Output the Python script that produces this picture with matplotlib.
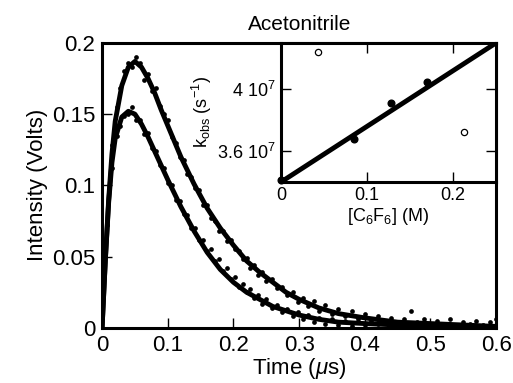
import matplotlib
matplotlib.use("Agg")
import matplotlib.pyplot as plt

plt.rcParams["font.family"] = ["Liberation Sans", "DejaVu Sans"]
plt.rcParams["mathtext.fontset"] = "custom"
plt.rcParams["mathtext.rm"] = "Liberation Sans"
plt.rcParams["mathtext.it"] = "Liberation Sans:italic"

# fitted curves (time in us, intensity in volts)
fit_t = [0, 0.005, 0.01, 0.015, 0.02, 0.03, 0.04, 0.05, 0.06, 0.07, 0.08, 0.09, 0.1,
         0.12, 0.14, 0.16, 0.18, 0.2, 0.22, 0.24, 0.26, 0.28, 0.3, 0.33, 0.36, 0.4,
         0.45, 0.5, 0.55, 0.6]
fit_upper = [0, 0.048, 0.090, 0.122, 0.145, 0.170, 0.183, 0.187, 0.183, 0.175, 0.165,
             0.153, 0.142, 0.120, 0.101, 0.084, 0.070, 0.058, 0.047, 0.039, 0.032,
             0.025, 0.020, 0.014, 0.010, 0.007, 0.004, 0.003, 0.002, 0.001]
fit_lower = [0, 0.048, 0.088, 0.116, 0.133, 0.148, 0.152, 0.150, 0.143, 0.134, 0.124,
             0.114, 0.104, 0.085, 0.068, 0.053, 0.041, 0.032, 0.025, 0.020, 0.015,
             0.012, 0.009, 0.006, 0.004, 0.003, 0.002, 0.001, 0.001, 0.000]

# measured points
up_t = [0.008, 0.015, 0.022, 0.028, 0.034, 0.040, 0.046, 0.052, 0.058, 0.064, 0.070,
        0.076, 0.082, 0.088, 0.094, 0.100, 0.106, 0.112, 0.118, 0.124, 0.130, 0.136,
        0.142, 0.148, 0.154, 0.160, 0.166, 0.172, 0.178, 0.184, 0.190, 0.196, 0.202,
        0.208, 0.214, 0.220, 0.226, 0.232, 0.238, 0.244, 0.250, 0.258, 0.266, 0.274,
        0.282, 0.290, 0.298, 0.306, 0.314, 0.322, 0.330, 0.340, 0.350, 0.360, 0.370,
        0.380, 0.390, 0.400, 0.410, 0.420, 0.430, 0.440, 0.450, 0.460, 0.470, 0.480,
        0.490, 0.500, 0.510, 0.520, 0.530, 0.540, 0.550, 0.560, 0.570, 0.580, 0.590,
        0.600]
up_i = [0.075, 0.128, 0.155, 0.168, 0.180, 0.186, 0.183, 0.190, 0.186, 0.174, 0.178,
        0.166, 0.168, 0.156, 0.150, 0.146, 0.134, 0.130, 0.120, 0.118, 0.108, 0.106,
        0.098, 0.097, 0.086, 0.086, 0.077, 0.075, 0.068, 0.068, 0.061, 0.062, 0.055,
        0.054, 0.048, 0.049, 0.042, 0.044, 0.037, 0.039, 0.033, 0.034, 0.028, 0.029,
        0.023, 0.025, 0.018, 0.021, 0.015, 0.019, 0.012, 0.016, 0.010, 0.013, 0.008,
        0.012, 0.006, 0.010, 0.005, 0.008, 0.004, 0.007, 0.003, 0.006, 0.012, 0.004,
        0.006, 0.002, 0.005, 0.003, 0.006, 0.002, 0.004, 0.003, 0.005, 0.002, 0.004,
        0.006]
lo_t = [0.008, 0.015, 0.022, 0.028, 0.034, 0.040, 0.046, 0.052, 0.058, 0.064, 0.070,
        0.076, 0.082, 0.088, 0.094, 0.100, 0.106, 0.112, 0.118, 0.124, 0.130, 0.136,
        0.142, 0.148, 0.154, 0.160, 0.166, 0.172, 0.178, 0.184, 0.190, 0.196, 0.202,
        0.208, 0.214, 0.220, 0.226, 0.232, 0.238, 0.244, 0.250, 0.258, 0.266, 0.274,
        0.282, 0.290, 0.298, 0.306, 0.314, 0.322, 0.330, 0.340, 0.350, 0.360, 0.370,
        0.380, 0.390, 0.400, 0.420, 0.440, 0.460, 0.480, 0.500, 0.520, 0.540, 0.560,
        0.580, 0.600]
lo_i = [0.072, 0.112, 0.135, 0.142, 0.149, 0.150, 0.155, 0.146, 0.146, 0.136, 0.137,
        0.126, 0.124, 0.114, 0.112, 0.102, 0.100, 0.090, 0.089, 0.080, 0.079, 0.070,
        0.070, 0.062, 0.062, 0.054, 0.055, 0.047, 0.048, 0.040, 0.042, 0.034, 0.036,
        0.029, 0.031, 0.025, 0.027, 0.021, 0.023, 0.017, 0.020, 0.014, 0.016, 0.011,
        0.013, 0.008, 0.011, 0.006, 0.009, 0.004, 0.007, 0.003, 0.006, 0.002, 0.005,
        0.001, 0.004, 0.002, 0.003, 0.001, 0.003, 0.002, 0.001, 0.003, 0.001, 0.002,
        0.001, 0.002]

# inset: k_obs vs [C6F6]
conc_fill = [0.0, 0.085, 0.128, 0.170]
kobs_fill = [3.41e7, 3.68e7, 3.91e7, 4.05e7]
conc_open = [0.043, 0.213]
kobs_open = [4.24e7, 3.72e7]
kfit_x = [0.0, 0.25]
kfit_y = [3.40e7, 4.30e7]

fig = plt.figure(figsize=(5.13, 3.83), dpi=100)
ax = fig.add_axes([0.199, 0.144, 0.768, 0.744])

ax.plot(up_t, up_i, "o", color="black", ms=3.4, mew=0)
ax.plot(lo_t, lo_i, "o", color="black", ms=3.4, mew=0)
ax.plot(fit_t, fit_upper, color="black", lw=3.5)
ax.plot(fit_t, fit_lower, color="black", lw=3.5)

ax.set_xlim(0, 0.6)
ax.set_ylim(0, 0.2)
ax.set_xticks([0, 0.1, 0.2, 0.3, 0.4, 0.5, 0.6])
ax.set_xticklabels(["0", "0.1", "0.2", "0.3", "0.4", "0.5", "0.6"])
ax.set_yticks([0, 0.05, 0.1, 0.15, 0.2])
ax.set_yticklabels(["0", "0.05", "0.1", "0.15", "0.2"])
ax.tick_params(direction="in", length=7, width=1, labelsize=16, pad=5)
for s in ax.spines.values():
    s.set_linewidth(2.2)
ax.set_xlabel(r"Time ($\mu$s)", fontsize=16, labelpad=0)
ax.set_ylabel("Intensity (Volts)", fontsize=16, labelpad=3)

ins = fig.add_axes([0.548, 0.525, 0.419, 0.363])
ins.plot(kfit_x, kfit_y, color="black", lw=3.5, solid_capstyle="butt")
ins.plot(conc_fill, kobs_fill, "o", color="black", ms=4.8, clip_on=False)
ins.plot(conc_open, kobs_open, "o", mfc="white", mec="black", ms=4.5, mew=0.9)
ins.set_xlim(0, 0.25)
ins.set_ylim(3.40e7, 4.30e7)
ins.set_xticks([0, 0.1, 0.2])
ins.set_xticklabels(["0", "0.1", "0.2"])
ins.set_yticks([3.6e7, 4.0e7])
ins.set_yticklabels([r"3.6 10$^7$", r"4 10$^7$"])
ins.tick_params(direction="in", length=7, width=1, labelsize=13, top=True, right=True, pad=4)
for s in ins.spines.values():
    s.set_linewidth(2.2)
ins.set_xlabel(r"[C$_6$F$_6$] (M)", fontsize=13, labelpad=1)
ins.set_ylabel(r"k$_{\mathrm{obs}}$ (s$^{-1}$)", fontsize=13, labelpad=2)

fig.text(0.585, 0.935, "Acetonitrile", fontsize=15, ha="center", va="center")

fig.savefig("out.png", dpi=100)
